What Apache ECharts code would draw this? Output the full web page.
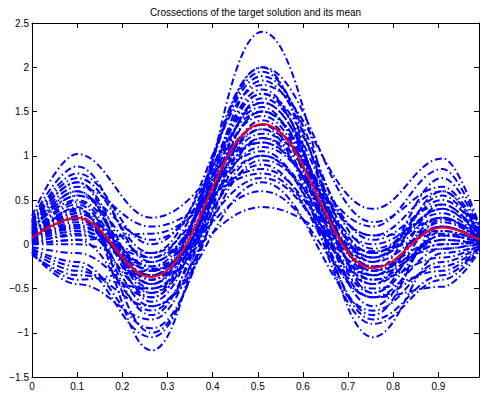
<!DOCTYPE html>
<html><head><meta charset="utf-8">
<script src="https://cdn.jsdelivr.net/npm/echarts@6/dist/echarts.min.js"></script>
<style>html,body{margin:0;padding:0;background:#fff}#c{width:480px;height:393px}</style>
</head><body><div id="c"></div>
<script>
const titleText = 'Crossections of the target solution and its mean';
const xTickLabels = ['0', '0.1', '0.2', '0.3', '0.4', '0.5', '0.6', '0.7', '0.8', '0.9'];
const yTickLabels = ['−1.5', '−1', '−0.5', '0', '0.5', '1', '1.5', '2', '2.5'];
// x positions of the sampled points (edges and turning points)
const xPoints = [0, 0.1, 0.265, 0.51, 0.755, 0.91, 0.99];
// mean of the cross-sections
const meanValues = [0.07, 0.30, -0.37, 1.36, -0.27, 0.19, 0.05];
// individual cross-sections
const c01 = [0.32, 1.02, 0.30, 1.15, -0.15, 0.40, 0.12];
const c02 = [0.02, 0.42, -1.20, 2.40, -0.55, 0.28, 0.04];
const c03 = [0.00, 0.12, -0.28, 0.42, -0.08, 0.12, 0.06];
const c04 = [0.25, 0.75, -0.10, 1.80, 0.40, 0.97, 0.22];
const c05 = [-0.10, -0.45, -0.85, 1.50, -0.40, 0.05, 0.00];
const c06 = [0.20, 0.60, -0.55, 2.00, -1.05, -0.10, -0.02];
const c07 = [0.15, 0.55, 0.05, 1.05, -0.60, -0.48, -0.08];
const c08 = [-0.05, -0.20, -0.95, 1.20, 0.10, 0.60, 0.15];
const c09 = [0.10, 0.35, -0.45, 1.95, -0.35, 0.30, 0.05];
const c10 = [0.05, 0.20, -0.25, 0.60, -0.50, -0.30, -0.05];
const c11 = [0.28, 0.88, -0.20, 1.35, -0.10, 0.50, 0.15];
const c12 = [-0.08, -0.30, -0.70, 0.70, -0.75, -0.20, -0.03];
const c13 = [0.12, 0.45, -0.60, 1.70, 0.05, 0.45, 0.10];
const c14 = [0.00, 0.05, 0.12, 0.85, -0.30, 0.00, 0.02];
const c15 = [0.18, 0.50, -0.30, 1.55, -0.85, -0.35, -0.05];
const c16 = [0.08, 0.30, -0.80, 1.85, -0.20, 0.75, 0.18];
const c17 = [-0.12, -0.35, -0.50, 1.00, -0.45, 0.10, 0.03];
const c18 = [0.22, 0.70, -0.40, 1.25, 0.20, 0.85, 0.20];
const c19 = [0.03, 0.15, -0.15, 1.60, -0.30, 0.20, 0.05];
const c20 = [0.14, 0.40, -1.00, 1.40, -0.60, -0.05, 0.00];
const c21 = [0.06, 0.25, -0.35, 1.10, 0.00, 0.35, 0.08];
const c22 = [-0.03, -0.10, -0.60, 1.75, -0.70, 0.15, 0.04];
const c23 = [0.26, 0.80, 0.00, 1.50, -0.25, 0.05, 0.02];
const c24 = [0.10, 0.32, -0.70, 0.95, -0.15, 0.55, 0.12];
const c25 = [0.00, 0.00, -0.20, 1.30, -0.90, -0.40, -0.06];
const c26 = [0.16, 0.60, -0.45, 2.00, 0.25, 0.65, 0.16];
const c27 = [0.04, 0.18, -0.55, 1.20, -0.35, 0.25, 0.06];
const c28 = [0.20, 0.65, 0.20, 0.80, -0.40, -0.15, -0.02];
const c29 = [-0.06, -0.25, -1.05, 1.65, -0.10, 0.40, 0.10];
const c30 = [0.12, 0.38, -0.25, 1.45, -0.55, 0.10, 0.03];
const c31 = [0.08, 0.28, -0.40, 1.90, -0.05, 0.30, 0.07];
const c32 = [0.02, 0.10, -0.10, 1.15, -0.20, 0.20, 0.05];
const c33 = [0.24, 0.70, -0.65, 1.60, -0.30, 0.60, 0.14];
const c34 = [-0.09, -0.40, -0.30, 0.90, -0.60, -0.25, -0.04];
const c35 = [0.13, 0.48, -0.50, 1.30, 0.10, 0.15, 0.04];
const c36 = [0.07, 0.22, -0.35, 1.70, -0.45, 0.45, 0.11];
const c37 = [0.18, 0.55, -0.15, 1.00, -0.25, -0.05, 0.01];
const c38 = [0.00, 0.05, -0.75, 1.50, -0.15, 0.30, 0.08];
const c39 = [0.11, 0.35, -0.30, 0.75, -0.35, 0.00, 0.02];
const c40 = [0.05, 0.30, -0.45, 1.35, -0.80, 0.20, 0.05];
const curves = [c01,c02,c03,c04,c05,c06,c07,c08,c09,c10,c11,c12,c13,c14,c15,c16,c17,c18,c19,c20,
                c21,c22,c23,c24,c25,c26,c27,c28,c29,c30,c31,c32,c33,c34,c35,c36,c37,c38,c39,c40];

const FONT = 'Liberation Sans, Arial, Helvetica, sans-serif';
const toPairs = vals => xPoints.map((x, i) => [x, vals[i]]);

const series = curves.map(vals => ({
  type: 'line', data: toPairs(vals), smooth: 0.4, smoothMonotone: 'x',
  showSymbol: false, silent: true,
  lineStyle: { color: '#0000ff', width: 2, type: [7, 3, 1.5, 3] }
}));
series.push({
  type: 'line', data: toPairs(meanValues), smooth: 0.4, smoothMonotone: 'x',
  showSymbol: false, silent: true, z: 5,
  lineStyle: { color: '#ff0000', width: 2, type: 'solid' }
});

const xLabelFmt = v => { const i = Math.round(v * 10); return (Math.abs(v * 10 - i) < 1e-6 && i < xTickLabels.length) ? xTickLabels[i] : ''; };
const yLabelFmt = v => { const i = Math.round((v + 1.5) * 2); return yTickLabels[i] || ''; };

const axisCommon = {
  axisLine: { show: true, onZero: false, lineStyle: { color: '#000', width: 1 } },
  axisTick: { show: true, inside: true, length: 5, lineStyle: { color: '#000' } },
  splitLine: { show: false }
};

const chart = echarts.init(document.getElementById('c'), null, { renderer: 'svg' });
chart.setOption({
  animation: false,
  backgroundColor: '#fff',
  grid: { left: 32, right: 1, top: 23, bottom: 16, show: false },
  xAxis: [
    Object.assign({ type: 'value', min: 0, max: 0.99, interval: 0.1, position: 'bottom',
      axisLabel: { show: true, formatter: xLabelFmt, color: '#000', fontSize: 10, fontFamily: FONT, margin: 4, showMaxLabel: false } }, axisCommon),
    Object.assign({ type: 'value', min: 0, max: 0.99, interval: 0.1, position: 'top',
      axisLabel: { show: false } }, axisCommon)
  ],
  yAxis: [
    Object.assign({ type: 'value', min: -1.5, max: 2.5, interval: 0.5, position: 'left',
      axisLabel: { show: true, formatter: yLabelFmt, color: '#000', fontSize: 10, fontFamily: FONT, margin: 3 } }, axisCommon),
    Object.assign({ type: 'value', min: -1.5, max: 2.5, interval: 0.5, position: 'right',
      axisLabel: { show: false } }, axisCommon)
  ],
  graphic: [{
    type: 'text', x: 255.5, y: 12,
    style: { text: titleText, align: 'center', verticalAlign: 'middle', fontSize: 10, fontFamily: FONT, fill: '#000' }
  }],
  series: series
});
</script>
</body></html>
